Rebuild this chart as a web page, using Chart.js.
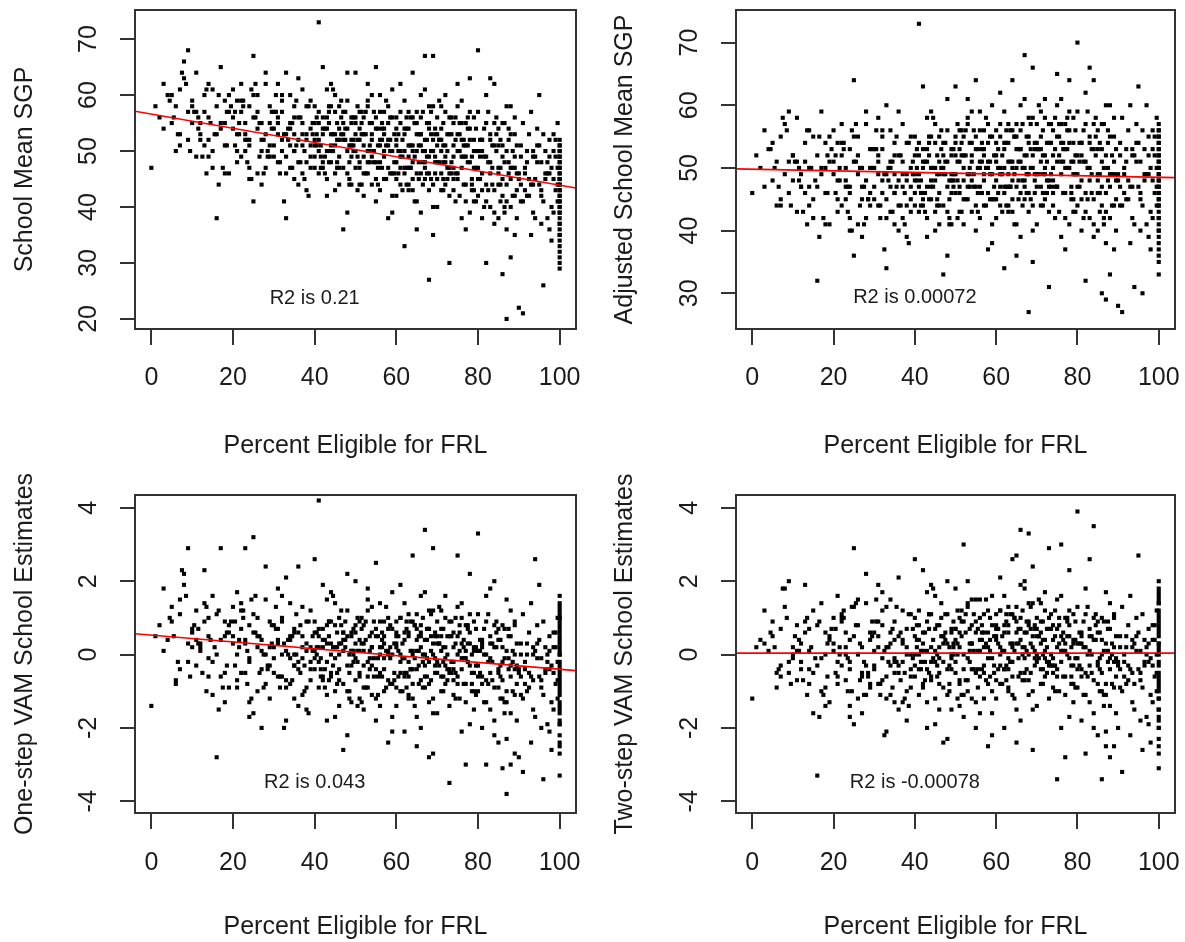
<!DOCTYPE html>
<html>
<head>
<meta charset="utf-8">
<script src="https://cdn.jsdelivr.net/npm/chart.js@4.4.0/dist/chart.umd.min.js"></script>
<style>
  body { margin: 0; background: #fff; }
  canvas { position: absolute; }
</style>
</head>
<body>
<canvas id="p1" width="592" height="471" style="left:0px;top:0px"></canvas>
<canvas id="p2" width="593" height="471" style="left:592px;top:0px"></canvas>
<canvas id="p3" width="592" height="471" style="left:0px;top:471px"></canvas>
<canvas id="p4" width="593" height="471" style="left:592px;top:471px"></canvas>
<script>
const FONT = "'Liberation Sans', Arial, Helvetica, sans-serif";
const INK = "#1b1b1b";

// percent eligible for FRL, one per school (shared by all four panels)
const pctFRL = [
  0, 2, 3, 5, 6, 4, 8, 1, 7, 9,
  5, 7, 9, 3, 8, 6, 10, 9, 7, 10,
  11, 12, 13, 14, 15, 16, 17, 18, 19, 12,
  10, 11, 13, 14, 15, 16, 17, 18, 19, 14,
  12, 13, 15, 16, 17, 18, 19, 11, 14, 18,
  20, 21, 22, 23, 24, 25, 26, 27, 28, 29,
  21, 22, 24, 25, 26, 27, 28, 29, 23, 20,
  20, 22, 23, 24, 26, 27, 28, 29, 25, 21,
  21, 23, 24, 25, 26, 27, 28, 29, 22, 24,
  30, 31, 32, 33, 34, 35, 36, 37, 38, 39,
  30, 32, 33, 34, 35, 36, 37, 38, 39, 31,
  30, 31, 33, 34, 35, 36, 37, 38, 39, 32,
  31, 32, 33, 34, 35, 36, 37, 38, 39, 35,
  30, 32, 34, 36, 38, 31, 33, 35, 37, 39,
  40, 41, 42, 43, 44, 45, 46, 47, 48, 49,
  40, 42, 43, 44, 45, 46, 47, 48, 49, 41,
  41, 42, 43, 44, 45, 46, 47, 48, 49, 40,
  40, 41, 43, 44, 46, 47, 48, 49, 42, 45,
  40, 42, 44, 46, 48, 41, 43, 45, 47, 49,
  41, 43, 45, 47, 49, 40, 42, 44, 46, 48,
  50, 51, 52, 53, 54, 55, 56, 57, 58, 59,
  50, 52, 53, 54, 55, 56, 57, 58, 59, 51,
  51, 52, 53, 54, 55, 56, 57, 58, 59, 50,
  50, 51, 53, 55, 57, 59, 52, 54, 56, 58,
  51, 53, 55, 57, 59, 50, 52, 54, 56, 58,
  50, 52, 54, 56, 58, 51, 53, 55, 57, 59,
  60, 61, 62, 63, 64, 65, 66, 67, 68, 69,
  60, 62, 63, 64, 65, 66, 67, 68, 69, 61,
  61, 62, 63, 64, 65, 66, 67, 68, 69, 60,
  60, 61, 63, 65, 67, 69, 62, 64, 66, 68,
  61, 63, 65, 67, 69, 60, 62, 64, 66, 68,
  60, 62, 64, 66, 68, 61, 63, 65, 67, 69,
  60, 61, 62, 63, 64, 65, 66, 67, 68, 69,
  70, 71, 72, 73, 74, 75, 76, 77, 78, 79,
  70, 72, 73, 74, 75, 76, 77, 78, 79, 71,
  71, 72, 73, 74, 75, 76, 77, 78, 79, 70,
  70, 71, 73, 75, 77, 79, 72, 74, 76, 78,
  71, 73, 75, 77, 79, 70, 72, 74, 76, 78,
  70, 72, 74, 76, 78, 71, 73, 75, 77, 79,
  80, 81, 82, 83, 84, 85, 86, 87, 88, 89,
  80, 82, 83, 84, 85, 86, 87, 88, 89, 81,
  81, 82, 83, 84, 85, 86, 87, 88, 89, 80,
  80, 81, 83, 85, 87, 89, 82, 84, 86, 88,
  81, 83, 85, 87, 89, 80, 82, 84, 86, 88,
  80, 82, 84, 86, 88, 81, 83, 85, 87, 89,
  90, 91, 92, 93, 94, 95, 96, 97, 98, 99,
  90, 92, 93, 94, 95, 96, 97, 98, 99, 91,
  91, 92, 93, 94, 95, 96, 97, 98, 99, 90,
  100, 100, 100, 100, 100, 100, 100, 100, 100, 100,
  100, 100, 100, 100, 100, 100, 100, 100, 100, 100,
  4.5, 6.5, 8.5, 10.5, 12.5, 14.5, 16.5, 18.5, 11.5, 13.5,
  5.5, 7.5, 9.5, 15.5, 17.5, 19.5, 13.5, 11.5, 16.5, 18.5,
  20.5, 22.5, 24.5, 26.5, 28.5, 30.5, 32.5, 34.5, 36.5, 38.5,
  21.5, 23.5, 25.5, 27.5, 29.5, 31.5, 33.5, 35.5, 37.5, 39.5,
  20.5, 23.5, 26.5, 29.5, 32.5, 35.5, 38.5, 24.5, 31.5, 37.5,
  21.5, 25.5, 28.5, 30.5, 33.5, 34.5, 36.5, 39.5, 27.5, 22.5,
  40.5, 42.5, 44.5, 46.5, 48.5, 50.5, 52.5, 54.5, 56.5, 58.5,
  41.5, 43.5, 45.5, 47.5, 49.5, 51.5, 53.5, 55.5, 57.5, 59.5,
  40.5, 43.5, 46.5, 49.5, 52.5, 55.5, 58.5, 44.5, 50.5, 56.5,
  41.5, 45.5, 48.5, 51.5, 53.5, 57.5, 59.5, 42.5, 47.5, 54.5,
  40.5, 42.5, 45.5, 48.5, 51.5, 53.5, 56.5, 58.5, 43.5, 55.5,
  44.5, 46.5, 49.5, 50.5, 52.5, 54.5, 57.5, 59.5, 41.5, 47.5,
  43.5, 48.5, 50.5, 53.5, 55.5, 58.5, 45.5, 51.5, 56.5, 49.5,
  60.5, 62.5, 64.5, 66.5, 68.5, 70.5, 72.5, 74.5, 76.5, 78.5,
  61.5, 63.5, 65.5, 67.5, 69.5, 71.5, 73.5, 75.5, 77.5, 79.5,
  60.5, 63.5, 66.5, 69.5, 72.5, 75.5, 78.5, 64.5, 70.5, 76.5,
  61.5, 65.5, 68.5, 71.5, 73.5, 77.5, 79.5, 62.5, 67.5, 74.5,
  60.5, 62.5, 65.5, 68.5, 71.5, 73.5, 76.5, 78.5, 63.5, 75.5,
  64.5, 66.5, 69.5, 70.5, 72.5, 74.5, 77.5, 79.5, 61.5, 67.5,
  63.5, 68.5, 70.5, 73.5, 75.5, 78.5, 65.5, 71.5, 76.5, 69.5,
  62.5, 64.5, 67.5, 69.5, 72.5, 74.5, 77.5, 79.5, 66.5, 71.5,
  80.5, 82.5, 84.5, 86.5, 88.5, 90.5, 92.5, 94.5, 96.5, 98.5,
  81.5, 83.5, 85.5, 87.5, 89.5, 91.5, 93.5, 95.5, 97.5, 99.5,
  80.5, 83.5, 86.5, 89.5, 92.5, 95.5, 98.5, 84.5, 90.5, 96.5,
  81.5, 85.5, 87.5, 88.5, 91.5, 93.5, 97.5, 99.5, 82.5, 94.5,
  80.5, 82.5, 85.5, 86.5, 89.5, 90.5, 93.5, 96.5, 98.5, 91.5,
  83.5, 84.5, 87.5, 88.5, 92.5, 94.5, 95.5, 97.5, 99.5, 81.5,
  85.5, 86.5, 89.5, 90.5, 93.5, 95.5, 97.5, 98.5, 99.5, 87.5,
  100, 100, 100, 100, 100, 100, 100, 100, 100, 100,
  100, 100, 100, 100, 100, 100, 100, 100, 100, 100
];

// school mean SGP
const meanSGP = [
  47, 56, 62, 55, 58, 60, 66, 58, 53, 68,
  60, 51, 57, 54, 63, 50, 55, 52, 61, 59,
  64, 52, 57, 49, 61, 38, 55, 59, 46, 53,
  58, 49, 60, 56, 47, 53, 65, 51, 57, 62,
  55, 51, 50, 58, 54, 46, 60, 57, 52, 55,
  56, 48, 59, 52, 45, 67, 54, 50, 62, 49,
  53, 57, 51, 41, 60, 55, 47, 58, 50, 54,
  61, 49, 55, 58, 46, 52, 64, 51, 56, 59,
  50, 53, 47, 60, 57, 44, 53, 55, 62, 52,
  54, 48, 59, 38, 51, 56, 63, 46, 53, 49,
  57, 52, 46, 60, 50, 44, 55, 58, 51, 62,
  49, 55, 53, 47, 58, 52, 61, 43, 54, 50,
  53, 57, 49, 55, 45, 56, 51, 48, 59, 53,
  51, 60, 54, 48, 52, 56, 64, 50, 53, 47,
  47, 73, 65, 54, 50, 57, 44, 52, 59, 49,
  55, 48, 61, 51, 43, 58, 53, 46, 55, 52,
  50, 56, 45, 53, 60, 49, 36, 54, 51, 58,
  52, 46, 56, 62, 47, 57, 50, 44, 53, 51,
  49, 54, 48, 52, 64, 55, 42, 53, 47, 56,
  57, 50, 46, 55, 52, 51, 47, 58, 54, 39,
  64, 47, 53, 58, 44, 65, 51, 49, 55, 42,
  50, 56, 46, 52, 48, 60, 54, 38, 50, 57,
  44, 51, 59, 55, 41, 48, 57, 52, 46, 53,
  47, 54, 50, 56, 45, 61, 49, 53, 43, 58,
  52, 48, 54, 50, 39, 56, 46, 60, 52, 47,
  55, 42, 49, 57, 51, 48, 62, 45, 53, 56,
  48, 55, 33, 51, 64, 46, 53, 67, 27, 67,
  52, 46, 57, 43, 50, 60, 47, 54, 40, 49,
  44, 53, 49, 56, 36, 51, 45, 58, 50, 54,
  42, 57, 47, 53, 61, 44, 50, 48, 56, 46,
  50, 54, 41, 48, 52, 45, 59, 51, 39, 55,
  56, 47, 45, 53, 49, 62, 43, 55, 50, 35,
  51, 47, 54, 44, 50, 57, 46, 52, 43, 58,
  45, 52, 60, 30, 49, 62, 55, 41, 63, 50,
  51, 44, 56, 47, 53, 38, 49, 57, 43, 46,
  54, 48, 42, 51, 46, 59, 36, 52, 47, 56,
  48, 43, 53, 50, 55, 41, 57, 45, 52, 48,
  50, 46, 58, 44, 52, 40, 49, 55, 47, 39,
  53, 51, 43, 49, 54, 58, 47, 45, 51, 56,
  68, 50, 30, 63, 62, 44, 28, 20, 47, 53,
  42, 55, 48, 37, 51, 45, 58, 40, 49, 52,
  46, 41, 52, 55, 38, 49, 44, 53, 35, 57,
  50, 43, 46, 54, 41, 47, 60, 39, 51, 45,
  52, 40, 47, 36, 56, 45, 49, 43, 55, 31,
  47, 44, 51, 42, 58, 38, 53, 46, 50, 42,
  22, 21, 50, 57, 45, 60, 26, 48, 40, 52,
  46, 42, 35, 49, 44, 53, 38, 47, 43, 55,
  41, 48, 44, 38, 51, 41, 46, 34, 49, 45,
  52, 48, 45, 43, 41, 39, 36, 33, 30, 29,
  50, 46, 44, 42, 40, 47, 38, 35, 49, 51,
  59, 53, 62, 57, 49, 55, 60, 51, 56, 46,
  56, 64, 50, 53, 47, 58, 61, 54, 44, 57,
  51, 58, 45, 55, 49, 60, 53, 47, 56, 42,
  55, 48, 62, 52, 57, 46, 54, 59, 50, 55,
  57, 52, 49, 54, 41, 51, 58, 61, 48, 45,
  53, 56, 50, 57, 52, 55, 48, 53, 46, 59,
  56, 49, 53, 59, 45, 52, 57, 48, 54, 46,
  51, 58, 47, 54, 50, 44, 55, 51, 59, 48,
  53, 48, 56, 52, 46, 54, 50, 61, 43, 52,
  49, 55, 51, 57, 48, 45, 53, 54, 57, 50,
  51, 46, 52, 48, 55, 51, 47, 56, 57, 44,
  50, 53, 56, 49, 53, 57, 51, 46, 47, 52,
  55, 44, 58, 50, 47, 52, 48, 53, 55, 51,
  53, 47, 55, 44, 50, 52, 45, 56, 49, 43,
  49, 56, 51, 46, 54, 48, 53, 42, 51, 47,
  46, 51, 57, 48, 50, 55, 45, 41, 59, 52,
  52, 45, 53, 43, 48, 54, 50, 56, 49, 46,
  50, 54, 48, 45, 51, 56, 44, 49, 47, 53,
  55, 50, 46, 48, 53, 41, 48, 54, 43, 52,
  47, 57, 52, 46, 50, 44, 53, 55, 51, 49,
  44, 49, 55, 53, 47, 52, 56, 41, 48, 45,
  49, 43, 53, 40, 47, 51, 42, 54, 46, 39,
  54, 47, 44, 52, 38, 46, 50, 43, 49, 55,
  45, 51, 48, 43, 53, 37, 45, 56, 41, 50,
  40, 52, 46, 50, 47, 44, 52, 41, 57, 48,
  52, 48, 41, 55, 46, 49, 39, 45, 53, 43,
  44, 50, 54, 42, 45, 51, 48, 36, 47, 49,
  47, 39, 51, 44, 49, 42, 46, 50, 44, 48,
  51, 49, 47, 45, 43, 40, 37, 34, 31, 44,
  48, 46, 42, 39, 37, 32, 50, 45, 41, 35
];

// adjusted school mean SGP
const adjSGP = [
  46, 50, 56, 48, 51, 53, 49, 52, 44, 59,
  54, 45, 51, 47, 57, 44, 48, 46, 55, 52,
  58, 47, 51, 44, 55, 32, 50, 54, 41, 47,
  52, 43, 54, 50, 42, 47, 59, 46, 51, 56,
  49, 46, 45, 52, 49, 41, 55, 51, 47, 50,
  51, 43, 54, 47, 40, 64, 49, 45, 57, 44,
  48, 52, 46, 36, 55, 50, 42, 53, 45, 49,
  56, 44, 50, 53, 41, 47, 59, 46, 51, 54,
  45, 48, 42, 55, 52, 39, 48, 50, 57, 47,
  50, 44, 55, 34, 47, 52, 59, 42, 49, 45,
  53, 48, 42, 56, 46, 40, 51, 54, 47, 58,
  45, 51, 49, 43, 54, 48, 57, 39, 50, 46,
  49, 53, 45, 51, 41, 52, 47, 44, 55, 49,
  47, 56, 50, 44, 48, 52, 60, 46, 49, 43,
  44, 73, 63, 51, 47, 54, 41, 49, 56, 46,
  52, 45, 58, 48, 40, 55, 50, 43, 52, 49,
  47, 53, 42, 50, 57, 46, 33, 51, 48, 55,
  49, 43, 53, 59, 44, 54, 47, 41, 50, 48,
  46, 51, 45, 49, 61, 52, 39, 50, 44, 53,
  54, 47, 43, 52, 49, 48, 44, 55, 51, 36,
  63, 46, 52, 57, 43, 64, 50, 48, 54, 41,
  49, 55, 45, 51, 47, 59, 53, 37, 49, 56,
  43, 50, 58, 54, 40, 47, 56, 51, 45, 52,
  46, 53, 49, 55, 44, 60, 48, 52, 42, 57,
  51, 47, 53, 49, 38, 55, 45, 59, 51, 46,
  54, 41, 48, 56, 50, 47, 61, 44, 52, 55,
  48, 55, 34, 51, 64, 47, 53, 68, 27, 66,
  52, 46, 57, 43, 50, 60, 47, 54, 40, 49,
  44, 53, 49, 56, 36, 51, 45, 58, 50, 54,
  42, 57, 47, 53, 61, 44, 50, 48, 56, 46,
  50, 54, 41, 48, 52, 45, 59, 51, 39, 55,
  56, 47, 45, 53, 49, 62, 43, 55, 50, 35,
  51, 47, 54, 44, 50, 57, 46, 52, 43, 58,
  47, 53, 61, 31, 50, 65, 57, 42, 64, 51,
  53, 45, 57, 48, 55, 39, 50, 59, 45, 47,
  55, 49, 43, 52, 47, 61, 37, 54, 49, 57,
  49, 44, 54, 51, 57, 43, 58, 46, 54, 50,
  51, 47, 60, 46, 54, 41, 50, 56, 49, 41,
  54, 52, 44, 51, 56, 59, 48, 47, 53, 58,
  70, 52, 32, 66, 64, 46, 30, 29, 49, 55,
  44, 57, 50, 39, 53, 47, 60, 42, 51, 54,
  48, 43, 54, 57, 40, 51, 46, 55, 37, 59,
  52, 45, 48, 56, 43, 49, 62, 41, 53, 47,
  54, 42, 49, 38, 58, 47, 51, 45, 57, 33,
  49, 46, 53, 44, 60, 40, 55, 48, 52, 44,
  28, 27, 53, 60, 31, 63, 30, 60, 43, 55,
  49, 45, 38, 52, 47, 56, 41, 50, 46, 58,
  44, 51, 47, 41, 54, 44, 49, 37, 52, 48,
  57, 53, 50, 48, 46, 44, 41, 38, 35, 33,
  55, 51, 49, 47, 45, 52, 43, 40, 54, 56,
  53, 47, 56, 51, 43, 50, 55, 46, 50, 41,
  50, 58, 44, 48, 42, 53, 56, 48, 39, 52,
  46, 53, 40, 50, 45, 56, 49, 43, 52, 38,
  50, 43, 57, 47, 53, 42, 50, 55, 46, 51,
  52, 47, 44, 50, 37, 47, 54, 56, 44, 41,
  48, 51, 45, 53, 48, 51, 44, 49, 41, 54,
  53, 46, 50, 56, 42, 51, 56, 47, 53, 45,
  48, 55, 44, 51, 47, 43, 54, 50, 58, 47,
  50, 45, 53, 49, 45, 53, 49, 58, 42, 51,
  46, 52, 48, 56, 47, 44, 52, 51, 54, 49,
  48, 43, 49, 45, 54, 50, 46, 55, 54, 43,
  47, 50, 53, 48, 52, 56, 50, 45, 44, 49,
  52, 41, 57, 49, 46, 51, 45, 52, 54, 48,
  53, 47, 55, 44, 50, 53, 46, 58, 51, 45,
  49, 56, 51, 46, 54, 49, 54, 43, 53, 49,
  46, 51, 57, 48, 51, 57, 47, 41, 60, 54,
  52, 45, 53, 44, 49, 56, 52, 56, 49, 47,
  50, 54, 48, 45, 52, 57, 46, 51, 47, 55,
  55, 50, 46, 49, 54, 42, 50, 56, 43, 52,
  47, 57, 53, 47, 52, 46, 53, 56, 53, 49,
  44, 49, 55, 53, 48, 53, 58, 43, 48, 46,
  51, 45, 55, 42, 49, 54, 45, 57, 49, 42,
  56, 49, 46, 54, 40, 49, 53, 46, 52, 58,
  47, 53, 50, 45, 56, 40, 48, 58, 44, 53,
  42, 54, 48, 52, 50, 47, 55, 44, 59, 51,
  54, 50, 43, 57, 48, 52, 42, 48, 56, 46,
  46, 52, 56, 44, 48, 54, 51, 39, 50, 51,
  49, 41, 53, 47, 52, 45, 49, 53, 47, 50,
  56, 54, 52, 50, 48, 45, 42, 39, 36, 49,
  53, 51, 47, 44, 42, 37, 55, 50, 46, 40
];

// one-step VAM school estimates
const oneStepVAM = [
  -1.4, 0.8, 1.8, 1.3, -0.7, 0.4, 2.2, 0.5, 1.1, 2.9,
  0.9, -0.4, 0.3, 0.1, 1.9, -0.8, 0.6, -0.2, 1.5, 0.2,
  1.2, 0.1, 2.3, -0.6, 1.6, -2.8, 0.4, 0.9, -0.9, 0.2,
  0.7, -0.3, 1.4, 0.5, -1.1, 0.0, 2.9, -0.5, 0.6, 1.0,
  0.3, 0.9, -0.2, 1.1, -0.6, -1.3, 0.8, 0.4, -0.1, 0.5,
  0.5, -0.9, 1.2, 2.9, -1.7, 3.2, 0.2, -0.4, 1.5, -1.2,
  0.0, 0.7, -0.2, -1.6, 1.0, 0.4, -0.8, 0.9, -0.5, 0.3,
  1.3, -0.5, 0.4, 0.8, -1.0, 0.1, 2.4, -0.3, 0.6, 1.7,
  -0.7, 0.3, -1.3, 1.1, 0.5, -2.0, 0.0, 0.2, 1.4, -0.1,
  0.2, -0.6, 1.0, -1.8, -0.1, 0.6, 2.4, -1.1, 0.3, -0.4,
  0.8, 0.0, -0.9, 1.4, -0.3, -1.4, 0.5, 0.9, -0.2, 1.8,
  -0.5, 0.4, 0.1, -0.8, 0.7, -0.2, 1.3, -1.5, 0.2, -0.6,
  0.3, 0.9, -0.7, 0.5, -1.2, 0.6, -0.1, -0.9, 1.2, 0.0,
  -0.1, 1.6, 0.4, -0.4, 0.1, 0.7, 2.1, -0.3, 0.2, -0.7,
  2.6, 4.2, 1.9, 0.3, -0.5, 0.8, -1.4, 0.1, 1.2, -0.3,
  0.6, -0.6, 1.5, 0.0, -1.7, 1.0, 0.4, -1.0, 0.5, 0.2,
  -0.2, 0.7, -1.1, 0.3, 1.4, -0.4, -2.6, 0.5, 0.1, 0.9,
  0.1, -0.9, 0.8, 1.7, -0.7, 0.6, -0.3, -1.3, 0.2, -0.1,
  -0.4, 0.4, -0.6, 0.0, 2.2, 0.5, -1.8, 0.2, -0.8, 0.6,
  0.7, -0.2, -1.0, 0.6, 0.1, -0.1, -0.7, 0.9, 0.3, -2.2,
  2.0, -0.6, 0.3, 1.2, -1.1, 2.5, 0.0, -0.4, 0.7, -1.7,
  -0.1, 0.8, -0.9, 0.2, -0.4, 1.4, 0.5, -2.4, 0.0, 0.9,
  -1.2, 0.1, 1.5, 0.6, -1.8, -0.5, 0.9, 0.1, -0.8, 0.3,
  -0.7, 0.4, -0.2, 0.7, -1.0, 1.7, -0.3, 0.2, -1.4, 1.0,
  0.1, -0.6, 0.5, -0.1, -2.1, 0.8, -0.9, 1.3, 0.2, -0.7,
  0.6, -1.5, -0.3, 0.9, 0.0, -0.5, 1.8, -1.2, 0.3, 0.7,
  0.2, 1.0, -2.1, 0.5, 2.7, -0.4, 0.6, 3.4, -2.8, 2.9,
  0.6, -0.5, 1.1, -1.2, 0.1, 1.6, -0.6, 0.7, -1.6, -0.2,
  -1.0, 0.4, -0.2, 0.9, -2.5, 0.2, -0.9, 1.2, 0.0, 0.5,
  -1.4, 1.0, -0.6, 0.4, 1.7, -1.2, -0.1, -0.4, 0.8, -0.8,
  0.0, 0.6, -1.7, -0.3, 0.3, -0.9, 1.4, 0.1, -2.0, 0.7,
  0.9, -0.6, -0.8, 0.5, -0.2, 1.9, -1.2, 0.7, 0.0, -2.7,
  0.3, -0.5, 0.6, -1.1, 0.0, 1.1, -0.7, 0.4, -1.3, 1.2,
  -0.5, 0.5, 1.6, -3.5, -0.2, 2.7, 1.0, -1.3, 2.2, 0.1,
  0.3, -0.8, 0.9, -0.4, 0.5, -2.1, -0.1, 1.1, -1.0, -0.6,
  0.7, -0.3, -1.4, 0.2, -0.6, 1.4, -3.0, 0.3, -0.5, 0.9,
  -0.2, -1.0, 0.5, 0.0, 0.8, -1.5, 1.0, -0.7, 0.3, -0.3,
  0.1, -0.5, 1.3, -0.8, 0.2, -1.6, -0.1, 0.6, -0.4, -1.9,
  0.5, 0.2, -1.1, -0.1, 0.6, 1.2, -0.4, -0.8, 0.1, 0.9,
  3.3, 0.2, -3.0, 1.8, 2.0, -0.9, -3.1, -3.8, -0.3, 0.8,
  -1.0, 0.9, -0.1, -2.2, 0.4, -0.7, 1.5, -1.6, 0.0, 0.3,
  -0.6, -1.3, 0.3, 0.8, -2.4, -0.2, -1.0, 0.5, -2.7, 1.1,
  0.1, -0.8, -0.5, 0.7, -1.3, -0.4, 1.6, -1.8, 0.2, -0.6,
  0.4, -1.5, -0.4, -2.3, 0.9, -0.6, 0.0, -0.9, 0.8, -3.0,
  -0.3, -0.7, 0.2, -1.2, 1.2, -2.0, 0.5, -0.5, 0.1, -1.1,
  -2.8, -3.2, 0.3, 1.4, 2.6, 1.9, -3.4, 0.0, -1.3, 0.6,
  -0.4, -1.0, -2.4, 0.1, -0.6, 0.9, -1.9, -0.3, -0.8, 1.1,
  -1.2, 0.0, -0.6, -1.7, 0.4, -1.1, -0.2, -2.6, 0.2, -0.5,
  1.6, 0.9, 0.3, -0.2, -0.6, -1.0, -1.6, -2.2, -2.7, -3.3,
  1.2, 0.5, 0.0, -0.4, -0.8, 0.7, -1.3, -1.9, 1.0, 1.4,
  1.0, -0.2, 1.6, 0.8, -0.5, 0.4, 1.2, -0.3, 0.7, -1.0,
  0.5, 2.3, -0.6, 0.2, -0.9, 0.9, 1.3, 0.3, -1.5, 0.6,
  -0.3, 1.0, -1.2, 0.5, -0.4, 1.3, 0.3, -0.7, 0.8, -1.6,
  0.4, -0.8, 1.6, 0.0, 0.8, -0.9, 0.4, 1.1, -0.3, 0.5,
  0.9, 0.1, -0.5, 0.3, -2.0, 0.0, 0.9, 1.5, -0.6, -1.0,
  0.2, 0.6, -0.3, 0.7, 0.0, 0.5, -0.5, 0.1, -0.9, 1.2,
  0.6, -0.4, 0.2, 1.2, -1.0, 0.1, 0.9, -0.6, 0.4, -0.8,
  -0.1, 0.9, -0.8, 0.4, -0.2, -1.3, 0.5, -0.1, 1.3, -0.5,
  0.2, -0.7, 0.8, 0.1, -0.9, 0.5, -0.1, 1.6, -1.4, 0.2,
  -0.4, 0.6, 0.0, 1.0, -0.4, -0.9, 0.3, 0.4, 0.9, -0.1,
  0.0, -0.9, 0.2, -0.5, 0.7, 0.1, -0.6, 0.8, 0.9, -1.1,
  -0.3, 0.3, 0.7, -0.2, 0.4, 0.9, 0.1, -0.7, -0.6, 0.2,
  0.5, -1.2, 1.0, -0.1, -0.6, 0.2, -0.5, 0.3, 0.6, 0.0,
  0.5, -0.5, 0.8, -0.9, 0.1, 0.3, -0.7, 1.0, -0.1, -1.0,
  -0.1, 0.9, 0.1, -0.6, 0.6, -0.2, 0.5, -1.2, 0.3, -0.3,
  -0.6, 0.1, 1.0, -0.3, 0.0, 0.8, -0.5, -1.4, 1.3, 0.4,
  0.3, -0.8, 0.5, -1.0, -0.2, 0.7, 0.2, 0.9, -0.1, -0.5,
  0.1, 0.7, -0.3, -0.7, 0.2, 0.9, -0.8, 0.0, -0.4, 0.6,
  0.8, 0.0, -0.5, -0.3, 0.5, -1.2, -0.2, 0.7, -1.0, 0.4,
  -0.4, 1.1, 0.3, -0.5, 0.1, -0.8, 0.5, 0.7, 0.2, -0.1,
  -0.9, -0.1, 0.7, 0.5, -0.4, 0.3, 0.8, -1.1, -0.2, -0.6,
  0.1, -0.8, 0.6, -1.3, -0.2, 0.3, -0.9, 0.8, -0.4, -1.5,
  0.7, -0.2, -0.6, 0.5, -1.8, -0.4, 0.2, -0.7, 0.1, 1.0,
  -0.5, 0.3, -0.1, -0.8, 0.6, -2.0, -0.5, 0.9, -1.1, 0.2,
  -1.3, 0.4, -0.4, 0.1, -0.2, -0.7, 0.5, -1.2, 1.1, -0.1,
  0.4, -0.2, -1.2, 0.7, -0.3, 0.0, -1.5, -0.5, 0.6, -0.8,
  -0.7, 0.2, 0.7, -1.0, -0.5, 0.3, -0.1, -2.1, -0.2, 0.0,
  -0.3, -1.6, 0.3, -0.6, 0.0, -0.9, -0.4, 0.2, -0.7, -0.1,
  1.3, 1.0, 0.6, 0.2, -0.3, -0.9, -1.4, -1.9, -2.5, 0.0,
  0.8, 0.4, -0.5, -1.1, -1.5, -2.4, 1.1, 0.1, -0.7, -1.8
];

// two-step VAM school estimates
const twoStepVAM = [
  -1.2, 0.4, 1.2, 0.5, -0.5, 0.1, 1.8, 0.2, -0.3, 2.0,
  0.9, -0.6, -0.2, 0.3, 1.3, -0.9, 0.0, -0.5, 0.7, -0.1,
  0.8, -0.4, 1.9, -0.8, 1.2, -3.3, -0.1, 0.6, -1.3, 0.3,
  0.2, -0.7, 0.9, 0.1, -1.6, -0.3, 1.4, -0.9, 0.4, 0.7,
  -0.2, 0.6, -0.5, 0.8, -1.0, -1.4, 0.5, 0.1, -0.4, 0.0,
  0.3, -0.8, 1.1, 0.6, -1.7, 2.9, 0.0, -0.6, 1.4, -0.9,
  -0.2, 0.9, -0.4, -1.9, 1.5, 0.2, -1.1, 0.6, -0.7, 0.1,
  1.0, -0.3, 0.2, 0.4, -1.2, -0.5, 2.2, -0.8, 0.5, 1.6,
  -0.6, 0.0, -1.4, 1.3, 0.8, -1.6, -0.3, 0.4, 1.0, -0.2,
  0.1, -0.8, 1.2, -2.1, -0.3, 0.4, 2.1, -1.3, 0.0, -0.6,
  0.6, -0.1, -1.2, 1.5, -0.5, -1.5, 0.3, 0.7, -0.4, 1.9,
  -0.4, 0.5, 0.2, -1.1, 0.9, -0.3, 1.2, -1.8, 0.0, -0.7,
  0.2, 0.8, -0.6, 0.3, -1.3, 0.5, -0.2, -1.0, 1.1, -0.1,
  -0.3, 1.7, 0.6, -0.5, 0.2, 0.9, 1.3, -0.2, 0.4, -0.9,
  2.6, 1.2, 2.3, 0.1, -0.6, 0.7, -1.5, -0.2, 1.1, -0.4,
  0.5, -0.8, 1.7, -0.2, -1.9, 0.8, 0.3, -1.1, 0.6, 0.0,
  -0.4, 0.6, -1.3, 0.2, 1.6, -0.5, -2.4, 0.3, -0.1, 1.0,
  0.0, -1.1, 0.9, 1.9, -0.8, 0.5, -0.4, -1.5, 0.1, -0.2,
  -0.6, 0.3, -0.7, -0.1, 2.0, 0.4, -2.0, 0.1, -0.9, 0.7,
  0.8, -0.4, -1.2, 0.5, 0.0, -0.3, -0.9, 1.1, 0.2, -2.3,
  1.8, -0.8, 3.0, 1.3, -1.2, 1.5, 0.1, -0.5, 0.6, -1.6,
  -0.2, 0.9, -1.0, 0.3, -0.5, 1.5, 0.6, -2.5, -0.1, 1.0,
  -1.4, 0.0, 1.4, 0.8, -2.0, -0.6, 1.1, 0.2, -1.0, 0.4,
  -0.5, 0.6, -0.1, 0.9, -1.2, 1.6, -0.4, 0.3, -1.6, 1.2,
  0.2, -0.7, 0.6, -0.3, -2.2, 0.7, -1.1, 1.5, 0.4, -0.8,
  0.7, -1.7, -0.4, 1.0, -0.1, -0.7, 2.0, -1.3, 0.2, 0.8,
  0.4, 1.2, -2.0, 0.6, 2.6, 2.7, 3.4, 1.8, 3.3, 2.4,
  0.8, -0.4, 1.3, -1.1, 0.3, 1.9, -0.5, 0.8, -1.5, 0.0,
  -0.8, 0.6, -0.1, 1.1, -2.4, 0.4, -0.7, 1.4, 0.2, 0.7,
  -1.2, 1.2, -0.4, 0.6, 2.0, -1.0, 0.1, -0.2, 1.0, -0.7,
  0.2, 0.8, -1.5, -0.1, 0.5, -0.7, 1.6, 0.3, -1.8, 0.9,
  1.1, -0.4, -0.6, 0.7, 0.0, 2.1, -1.0, 0.9, 0.2, -2.6,
  0.5, -0.3, 0.8, -0.9, 0.2, 1.3, -0.5, 0.6, -1.1, 1.4,
  -0.2, 0.6, 1.7, 2.9, -0.1, -3.4, 3.0, -1.1, 2.3, 0.3,
  0.5, -0.6, 1.0, -0.3, 0.7, -2.0, 0.1, 1.2, -0.8, -0.4,
  0.9, -0.1, -1.2, 0.4, -0.4, 1.6, -2.8, 0.5, -0.3, 1.0,
  0.0, -0.8, 0.7, 0.2, 1.0, -1.3, 1.2, -0.5, 0.5, -0.1,
  0.3, -0.3, 1.5, -0.6, 0.4, -1.4, 0.1, 0.8, -0.2, -1.7,
  0.7, 0.4, -0.9, 0.1, 0.8, 1.4, -0.2, -0.6, 0.3, 1.1,
  3.9, 0.3, -2.7, 2.6, 3.5, -0.8, -3.4, -2.5, -0.1, 1.0,
  -0.9, 1.1, 0.1, -2.0, 0.6, -0.5, 1.7, -1.4, 0.2, 0.5,
  -0.4, -1.1, 0.5, 1.0, -2.2, 0.0, -0.8, 0.7, -2.5, 1.3,
  0.3, -0.6, -0.3, 0.9, -1.1, -0.2, 1.8, -1.6, 0.4, -0.4,
  0.6, -1.3, -0.2, -2.1, 1.1, -0.4, 0.2, -0.7, 1.0, -2.8,
  -0.1, -0.5, 0.4, -1.0, 1.4, -1.8, 0.7, -0.3, 0.3, -0.9,
  -2.0, -3.2, 0.5, 1.6, -0.8, 2.7, -2.6, 0.2, -1.1, 0.8,
  -0.2, -0.8, -2.2, 0.3, -0.4, 1.1, -1.7, -0.1, -0.6, 1.3,
  -1.0, 0.2, -0.4, -1.5, 0.6, -0.9, 0.0, -2.4, 0.4, -0.3,
  2.0, 1.4, 0.8, 0.3, -0.2, -0.7, -1.2, -1.8, -2.5, -3.1,
  1.7, 0.9, 0.5, 0.0, -0.5, 1.1, -1.0, -1.5, 1.5, 1.8,
  0.6, -0.4, 1.0, 0.5, -0.7, 0.2, 0.9, -0.6, 0.4, -1.1,
  0.2, 1.8, -0.8, -0.1, -1.1, 0.7, 1.0, 0.1, -1.7, 0.3,
  -0.5, 1.2, -1.0, 0.3, -0.6, 1.5, 0.1, -0.9, 0.6, -1.4,
  0.2, -1.0, 1.4, -0.2, 0.9, -1.1, 0.2, 1.3, -0.5, 0.7,
  0.7, -0.1, -0.7, 0.5, -2.2, -0.2, 1.1, 1.3, -0.8, -1.2,
  0.0, 0.8, -0.5, 0.9, -0.2, 0.7, -0.7, -0.1, -1.1, 1.0,
  0.8, -0.2, 0.4, 1.4, -0.8, 0.3, 1.1, -0.4, 0.6, -0.6,
  0.1, 1.1, -0.6, 0.6, 0.0, -1.1, 0.7, 0.1, 1.5, -0.3,
  0.4, -0.5, 1.0, 0.3, -0.7, 0.7, 0.1, 1.8, -1.2, 0.4,
  -0.2, 0.8, 0.2, 1.2, -0.2, -0.7, 0.5, 0.6, 1.1, 0.1,
  0.2, -0.7, 0.0, -0.3, 0.9, 0.3, -0.4, 1.0, 1.1, -0.9,
  -0.1, 0.5, 0.9, 0.0, 0.6, 1.1, 0.3, -0.5, -0.4, 0.4,
  0.7, -1.0, 1.2, 0.1, -0.4, 0.4, -0.3, 0.5, 0.8, 0.2,
  0.7, -0.3, 1.0, -0.7, 0.3, 0.5, -0.5, 1.2, 0.1, -0.8,
  0.1, 1.1, 0.3, -0.4, 0.8, 0.0, 0.7, -1.0, 0.5, -0.1,
  -0.4, 0.3, 1.2, -0.1, 0.2, 1.0, -0.3, -1.2, 1.5, 0.6,
  0.5, -0.6, 0.7, -0.8, 0.0, 0.9, 0.4, 1.1, 0.1, -0.3,
  0.3, 0.9, -0.1, -0.5, 0.4, 1.1, -0.6, 0.2, -0.2, 0.8,
  1.0, 0.2, -0.3, -0.1, 0.7, -1.0, 0.0, 0.9, -0.8, 0.6,
  -0.2, 1.3, 0.5, -0.3, 0.3, -0.6, 0.7, 0.9, 0.4, 0.1,
  -0.7, 0.1, 0.9, 0.7, -0.2, 0.5, 1.0, -0.9, 0.0, -0.4,
  0.3, -0.6, 0.8, -1.1, 0.0, 0.5, -0.7, 1.0, -0.2, -1.3,
  0.9, 0.0, -0.4, 0.7, -1.6, -0.2, 0.4, -0.5, 0.3, 1.2,
  -0.3, 0.5, 0.1, -0.6, 0.8, -1.8, -0.3, 1.1, -0.9, 0.4,
  -1.1, 0.6, -0.2, 0.3, 0.0, -0.5, 0.7, -1.0, 1.3, 0.1,
  0.6, 0.0, -1.0, 0.9, -0.1, 0.2, -1.3, -0.3, 0.8, -0.6,
  -0.5, 0.4, 0.9, -0.8, -0.3, 0.5, 0.1, -1.9, 0.0, 0.2,
  -0.1, -1.4, 0.5, -0.4, 0.2, -0.7, -0.2, 0.4, -0.5, 0.1,
  1.6, 1.2, 0.7, 0.2, -0.3, -0.9, -1.5, -2.0, -2.7, 0.1,
  1.0, 0.6, -0.6, -1.2, -1.7, -2.3, 1.4, 0.3, -0.8, -2.0
];

const xTicks = [0, 20, 40, 60, 80, 100];
const sgpTicks = [20, 30, 40, 50, 60, 70];
const adjTicks = [30, 40, 50, 60, 70];
const vamTicks = [-4, -2, 0, 2, 4];

// fitted regression lines and their R2
const fitIntercept = [56.6, 49.8, 0.53, 0.04];
const fitSlope = [-0.127, -0.013, -0.0093, 0];
const r2Text = ["R2 is 0.21", "R2 is 0.00072", "R2 is 0.043", "R2 is -0.00078"];

const yTitles = [
  "School Mean SGP",
  "Adjusted School Mean SGP",
  "One-step VAM School Estimates",
  "Two-step VAM School Estimates"
];

const X_MIN = -4, X_MAX = 104;

// box around the plot + the R2 note
const framePlugin = {
  id: "frame",
  afterDatasetsDraw(chart, args, opts) {
    const { ctx, chartArea: { left, top, right, bottom }, scales: { x, y } } = chart;
    ctx.save();
    ctx.strokeStyle = "#333";
    ctx.lineWidth = 2;
    ctx.strokeRect(left, top, right - left, bottom - top);
    ctx.fillStyle = INK;
    ctx.font = "20px " + FONT;
    ctx.textAlign = "center";
    ctx.textBaseline = "middle";
    ctx.fillText(opts.label, x.getPixelForValue(opts.lx), y.getPixelForValue(opts.ly));
    ctx.restore();
  }
};

function makePanel(canvasId, i, ys, yTicks, yMin, yMax, g) {
  const a = fitIntercept[i], b = fitSlope[i];
  const pts = pctFRL.map((v, k) => ({ x: v, y: ys[k] }));

  const config = {
    type: "scatter",
    data: {
      datasets: [
        {
          type: "line",
          data: [{ x: X_MIN, y: a + b * X_MIN }, { x: X_MAX, y: a + b * X_MAX }],
          borderColor: "#ff0000",
          borderWidth: 1.6,
          pointRadius: 0,
          fill: false
        },
        {
          data: pts,
          pointStyle: "rect",
          pointRadius: 2.9,
          backgroundColor: "#000",
          borderWidth: 0
        }
      ]
    },
    options: {
      responsive: false,
      animation: false,
      events: [],
      layout: { padding: { left: 0, top: g.padTop, right: g.padRight, bottom: 0 } },
      plugins: {
        legend: { display: false },
        tooltip: { enabled: false },
        frame: { label: r2Text[i], lx: 40, ly: g.r2y }
      },
      scales: {
        x: {
          type: "linear",
          min: X_MIN,
          max: X_MAX,
          afterBuildTicks: (s) => { s.ticks = xTicks.map((v) => ({ value: v })); },
          afterFit: (s) => { s.height = g.xH; s.paddingLeft = 0; s.paddingRight = 0; },
          grid: { drawOnChartArea: false, drawTicks: true, tickLength: 16, color: "#333", lineWidth: 2 },
          border: { display: false },
          ticks: {
            color: INK,
            font: { family: FONT, size: 25 },
            padding: g.xTickPad,
            maxRotation: 0,
            autoSkip: false,
            callback: (v) => String(v)
          },
          title: {
            display: true,
            text: "Percent Eligible for FRL",
            color: INK,
            font: { family: FONT, size: 25 },
            padding: { top: 0, bottom: g.xTitlePad }
          }
        },
        y: {
          type: "linear",
          min: yMin,
          max: yMax,
          afterBuildTicks: (s) => { s.ticks = yTicks.map((v) => ({ value: v })); },
          afterFit: (s) => { s.width = g.yW; s.paddingTop = 0; s.paddingBottom = 0; },
          grid: { drawOnChartArea: false, drawTicks: true, tickLength: 15, color: "#333", lineWidth: 2 },
          border: { display: false },
          ticks: {
            color: INK,
            font: { family: FONT, size: 25 },
            padding: g.yTickPad,
            minRotation: 90,
            maxRotation: 90,
            crossAlign: "center",
            autoSkip: false,
            callback: (v) => String(v)
          },
          title: {
            display: true,
            text: yTitles[i],
            color: INK,
            font: { family: FONT, size: 25 },
            padding: { top: g.yTitlePad, bottom: 0 }
          }
        }
      }
    },
    plugins: [framePlugin]
  };

  return new Chart(document.getElementById(canvasId), config);
}

makePanel("p1", 0, meanSGP, sgpTicks, 18.2, 75.2,
  { yW: 135, padTop: 10, padRight: 16, xH: 142, xTickPad: 18, xTitlePad: 10, yTickPad: 17, yTitlePad: 10, r2y: 23.7 });
makePanel("p2", 1, adjSGP, adjTicks, 24.3, 75.2,
  { yW: 144, padTop: 10, padRight: 10, xH: 142, xTickPad: 18, xTitlePad: 10, yTickPad: 17, yTitlePad: 18, r2y: 29.4 });
makePanel("p3", 2, oneStepVAM, vamTicks, -4.32, 4.35,
  { yW: 135, padTop: 24, padRight: 16, xH: 129, xTickPad: 19, xTitlePad: 0, yTickPad: 20, yTitlePad: 10, r2y: -3.5 });
makePanel("p4", 3, twoStepVAM, vamTicks, -4.32, 4.35,
  { yW: 144, padTop: 24, padRight: 10, xH: 129, xTickPad: 19, xTitlePad: 0, yTickPad: 20, yTitlePad: 18, r2y: -3.5 });
</script>
</body>
</html>
